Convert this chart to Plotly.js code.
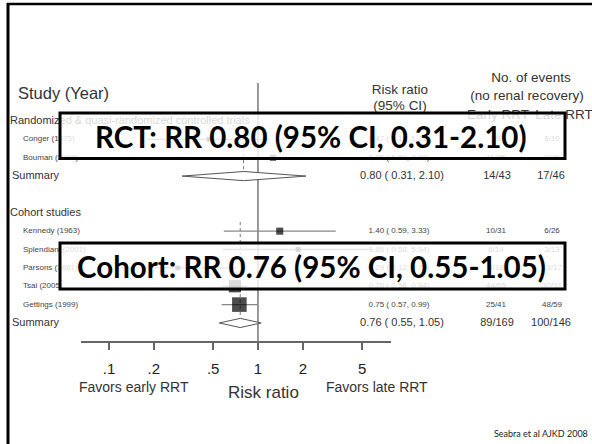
<!DOCTYPE html>
<html>
<head>
<meta charset="utf-8">
<script src="https://cdn.plot.ly/plotly-3.0.1.min.js"></script>
<style>html,body{margin:0;padding:0;background:#fff;}#chart{width:592px;height:444px;}</style>
</head>
<body>
<div id="chart"></div>
<script>
// ---------------- data ----------------
const rctStudies = ['Conger (1975)', 'Bouman (2002)'];
const rctRR = [0.47, 1.26];
const rctLo = [0.18, 0.60];
const rctHi = [1.21, 2.66];
const rctEarly = ['3/8', '11/35'];
const rctLate = ['8/10', '9/36'];
const rctWeights = [4, 6];

const cohortStudies = ['Kennedy (1963)', 'Splendiani (2001)', 'Parsons (1961)', 'Tsai (2005)', 'Gettings (1999)'];
const cohortRR = [1.40, 1.86, 0.29, 0.70, 0.75];
const cohortLo = [0.59, 0.58, 0.12, 0.58, 0.57];
const cohortHi = [3.33, 5.94, 0.72, 0.84, 0.99];
const cohortEarly = ['10/31', '6/14', '4/18', '44/65', '25/41'];
const cohortLate = ['6/26', '3/13', '13/17', '30/31', '48/59'];
const cohortWeights = [8, 4, 4, 24, 34];

const groupNames = ['Randomized & quasi-randomized controlled trials', 'Cohort studies'];
const summaryRR = [0.80, 0.76];
const summaryLo = [0.31, 0.55];
const summaryHi = [2.10, 1.05];
const summaryEarly = ['14/43', '89/169'];
const summaryLate = ['17/46', '100/146'];
const boxLabels = ['RCT: RR 0.80 (95% CI, 0.31-2.10)', 'Cohort: RR 0.76 (95% CI, 0.55-1.05)'];

const tickVals = [0.1, 0.2, 0.5, 1, 2, 5];
const tickText = ['.1', '.2', '.5', '1', '2', '5'];

// ---------------- layout helpers ----------------
const W = 592, H = 444;
const px = x => x / W;
const py = y => 1 - y / H;
const SANS = 'Liberation Sans, Arial, sans-serif';
const fmt = (r, l, h) => r.toFixed(2) + ' ( ' + l.toFixed(2) + ', ' + h.toFixed(2) + ')';

const XL = 81, XR = 391, LR = [-1.188, 0.893];
const YT = 83, YB = 341;
const rowPx = 18.36, row0 = 121;           // pixel of row 0 and row spacing
const pyToRow = p => (p - row0) / rowPx;

const groups = [
  {studies: rctStudies, rr: rctRR, lo: rctLo, hi: rctHi, early: rctEarly, late: rctLate, w: rctWeights},
  {studies: cohortStudies, rr: cohortRR, lo: cohortLo, hi: cohortHi, early: cohortEarly, late: cohortLate, w: cohortWeights}
];

let row = 0;
const headerRows = [], summaryRows = [], studyRows = [];
groups.forEach(g => {
  headerRows.push(row); row++;
  const rs = [];
  g.studies.forEach(() => { rs.push(row); row++; });
  studyRows.push(rs);
  summaryRows.push(row); row++;
  row++;
});

const traces = [];
const T = {};
function addText(key, xp, y, t) {
  if (!T[key]) T[key] = {x: [], y: [], text: []};
  T[key].x.push(xp); T[key].y.push(y); T[key].text.push(t);
}

groups.forEach((g, gi) => {
  traces.push({
    type: 'scatter', mode: 'lines',
    x: [summaryRR[gi], summaryRR[gi]], y: [studyRows[gi][0] - 0.5, summaryRows[gi]],
    line: {color: '#777', width: 1, dash: 'dot'}, hoverinfo: 'skip'
  });
});

groups.forEach((g, gi) => {
  const lx = [], ly = [];
  g.studies.forEach((s, i) => {
    const r = studyRows[gi][i];
    lx.push(g.lo[i], g.hi[i], null); ly.push(r, r, null);
  });
  traces.push({type: 'scatter', mode: 'lines', x: lx, y: ly, line: {color: '#888', width: 1.3}, hoverinfo: 'skip'});
  traces.push({
    type: 'scatter', mode: 'markers', x: g.rr, y: studyRows[gi],
    marker: {symbol: 'square', color: '#000', size: g.w.map(w => 2.5 * Math.sqrt(w)), line: {width: 0}},
    hoverinfo: 'skip'
  });
  const r = summaryRows[gi], h = 0.25;
  traces.push({
    type: 'scatter', mode: 'lines', fill: 'toself', fillcolor: '#fff',
    x: [summaryLo[gi], summaryRR[gi], summaryHi[gi], summaryRR[gi], summaryLo[gi]],
    y: [r, r - h, r, r + h, r],
    line: {color: '#555', width: 1}, hoverinfo: 'skip'
  });

  addText('group', 10, headerRows[gi], groupNames[gi]);
  g.studies.forEach((s, i) => {
    const rr = studyRows[gi][i];
    addText('study', 23, rr, s);
    addText('valSmall', 399, rr, fmt(g.rr[i], g.lo[i], g.hi[i]));
    addText('valSmall', 496, rr, g.early[i]);
    addText('valSmall', 552, rr, g.late[i]);
  });
  addText('group', 12, summaryRows[gi], 'Summary');
  addText('valBig', 402, summaryRows[gi], fmt(summaryRR[gi], summaryLo[gi], summaryHi[gi]));
  addText('valBig', 497, summaryRows[gi], summaryEarly[gi]);
  addText('valBig', 551, summaryRows[gi], summaryLate[gi]);
});

addText('title', 18, pyToRow(95), 'Study (Year)');
addText('head', 400, pyToRow(91), 'Risk ratio');
addText('head', 400, pyToRow(107), '(95% CI)');
addText('head', 531, pyToRow(79), 'No. of events');
addText('head', 527, pyToRow(97), '(no renal recovery)');
addText('head', 498, pyToRow(116), 'Early RRT');
addText('head', 564, pyToRow(116), 'Late RRT');

const styles = {
  group:    {size: 11, color: '#333', pos: 'middle right'},
  study:    {size: 8, color: '#444', pos: 'middle right'},
  title:    {size: 16.5, color: '#333', pos: 'middle right'},
  head:     {size: 13.5, color: '#333', pos: 'middle center'},
  valSmall: {size: 8, color: '#444', pos: 'middle center'},
  valBig:   {size: 11, color: '#333', pos: 'middle center'}
};
Object.keys(T).forEach(k => {
  traces.push({
    type: 'scatter', mode: 'text', xaxis: 'x2', yaxis: 'y2',
    x: T[k].x, y: T[k].y, text: T[k].text, textposition: styles[k].pos,
    textfont: {family: SANS, size: styles[k].size, color: styles[k].color},
    cliponaxis: false, hoverinfo: 'skip'
  });
});

const boxTop = [113, 243], boxBot = [158.5, 289];
const shapes = [
  {type: 'line', xref: 'paper', yref: 'paper', x0: px(7), x1: 1.01, y0: py(4), y1: py(4), line: {color: '#000', width: 2.5}},
  {type: 'line', xref: 'paper', yref: 'paper', x0: px(8), x1: px(8), y0: py(3), y1: -0.01, line: {color: '#000', width: 3}},
  {type: 'line', xref: 'x', yref: 'y domain', x0: 1, x1: 1, y0: 0, y1: 1, line: {color: '#777', width: 1.5}, layer: 'below'}
];
boxLabels.forEach((b, i) => {
  shapes.push({type: 'rect', xref: 'paper', yref: 'paper', x0: px(60), x1: px(565), y0: py(boxBot[i]), y1: py(boxTop[i]),
    fillcolor: 'rgba(255,255,255,0.8)', line: {color: '#000', width: 3}, layer: 'above'});
});

const annotations = boxLabels.map((b, i) => ({
  xref: 'paper', yref: 'paper', x: px(311), y: py((boxTop[i] + boxBot[i]) / 2 + 0.5),
  text: b, showarrow: false, xanchor: 'center', yanchor: 'middle',
  font: {family: 'Lato, sans-serif', size: 29.5, color: '#000', weight: 'bold'}
}));
annotations.push(
  {xref: 'paper', yref: 'paper', x: px(134), y: py(387), text: 'Favors early RRT', showarrow: false, xanchor: 'center', yanchor: 'middle', font: {family: SANS, size: 14, color: '#333'}},
  {xref: 'paper', yref: 'paper', x: px(263), y: py(392), text: 'Risk ratio', showarrow: false, xanchor: 'center', yanchor: 'middle', font: {family: SANS, size: 17, color: '#333'}},
  {xref: 'paper', yref: 'paper', x: px(377), y: py(387), text: 'Favors late RRT', showarrow: false, xanchor: 'center', yanchor: 'middle', font: {family: SANS, size: 14, color: '#333'}},
  {xref: 'paper', yref: 'paper', x: px(590), y: py(433), text: 'Seabra et al AJKD 2008', showarrow: false, xanchor: 'right', yanchor: 'middle', font: {family: 'Lato, sans-serif', size: 9, color: '#222'}}
);

const layout = {
  width: W, height: H, margin: {l: 0, r: 0, t: 0, b: 0, pad: 0},
  paper_bgcolor: '#fff', plot_bgcolor: 'rgba(0,0,0,0)', showlegend: false,
  xaxis: {
    type: 'log', range: LR, domain: [px(XL), px(XR)], anchor: 'y',
    showline: true, linecolor: '#666', linewidth: 1.5, ticks: 'outside', ticklen: 7, tickwidth: 1.5, tickcolor: '#666',
    tickvals: tickVals, ticktext: tickText, tickfont: {family: SANS, size: 15, color: '#222'},
    showgrid: false, zeroline: false, ticklabelstandoff: 6, fixedrange: true
  },
  yaxis: {range: [pyToRow(YB), pyToRow(YT)], domain: [py(YB), py(YT)], visible: false, fixedrange: true},
  xaxis2: {domain: [0, 1], range: [0, W], anchor: 'y2', visible: false, fixedrange: true},
  yaxis2: {domain: [0, 1], range: [pyToRow(H), pyToRow(0)], anchor: 'x2', visible: false, fixedrange: true},
  shapes: shapes, annotations: annotations
};

Plotly.newPlot('chart', traces, layout, {displayModeBar: false, staticPlot: true});
</script>
</body>
</html>
